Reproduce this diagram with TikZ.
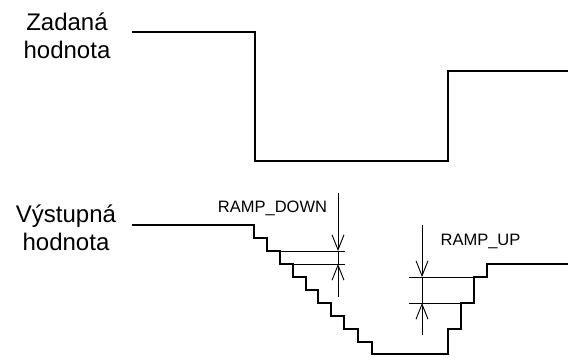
\documentclass[tikz,border=0pt]{standalone}
\usepackage{fontspec}
\setmainfont{Liberation Sans}
\usetikzlibrary{arrows.meta}
\begin{document}
\begin{tikzpicture}[x=1pt,y=-1pt,
  biglabel/.style={font=\fontsize{24}{28}\selectfont, align=center, inner sep=0pt, anchor=north},
  smalllabel/.style={font=\fontsize{16.5}{19}\selectfont, inner sep=0pt, anchor=base},
  signal/.style={line width=1.5pt, line join=miter},
  outsig/.style={line width=1.8pt, line join=miter},
  dimline/.style={line width=0.9pt},
  dimarrow/.style={line width=0.9pt, -{Straight Barb[length=15pt,width=12pt]}}]
\useasboundingbox (0,0) rectangle (568,358);

% labels
\node[biglabel] (zad) at (67,13) {Zadaná\\hodnota};
\node[biglabel] (vys) at (66,205) {Výstupná\\hodnota};
\node[smalllabel] (rd) at (272.5,213) {RAMP\_DOWN};
\node[smalllabel] (ru) at (480.5,246) {RAMP\_UP};

% set-point signal
\coordinate (s0) at (132,32);
\coordinate (s1) at (255,32);
\coordinate (s2) at (255,161);
\coordinate (s3) at (448,161);
\coordinate (s4) at (448,71);
\coordinate (s5) at (568,71);
\draw[signal] (s0) -- (s1) -- (s2) -- (s3) -- (s4) -- (s5);

% output signal
\coordinate (o0) at (132,225);
\coordinate (o1) at (254,225);
\coordinate (o2) at (372,354);
\coordinate (o3) at (448,354);
\coordinate (o4) at (487,264);
\coordinate (o5) at (568,264);
\draw[outsig] (o0) -- (o1) |- (267,238) |- (280,251) |- (293,264) |- (306,277)
  |- (318,290) |- (331,303) |- (344,316) |- (358,329) |- (372,342) |- (o2)
  -- (o3) |- (461,329) |- (474,303) |- (487,277) |- (o5);

% RAMP_DOWN dimension
\coordinate (d1a) at (268,251);
\coordinate (d1b) at (345,251);
\coordinate (d2a) at (280,264);
\coordinate (d2b) at (345,264);
\coordinate (dt) at (338,193);
\coordinate (dm1) at (338,251);
\coordinate (dm2) at (338,264);
\coordinate (db) at (338,297);
\draw[dimline] (d1a) -- (d1b);
\draw[dimline] (d2a) -- (d2b);
\draw[dimline] (dm1) -- (dm2);
\draw[dimarrow] (dt) -- (dm1);
\draw[dimarrow] (db) -- (dm2);

% RAMP_UP dimension
\coordinate (u1a) at (409,277);
\coordinate (u1b) at (475,277);
\coordinate (u2a) at (409,303);
\coordinate (u2b) at (462,303);
\coordinate (ut) at (422,225);
\coordinate (um1) at (422,277);
\coordinate (um2) at (422,303);
\coordinate (ub) at (422,335);
\draw[dimline] (u1a) -- (u1b);
\draw[dimline] (u2a) -- (u2b);
\draw[dimline] (um1) -- (um2);
\draw[dimarrow] (ut) -- (um1);
\draw[dimarrow] (ub) -- (um2);
\end{tikzpicture}
\end{document}
